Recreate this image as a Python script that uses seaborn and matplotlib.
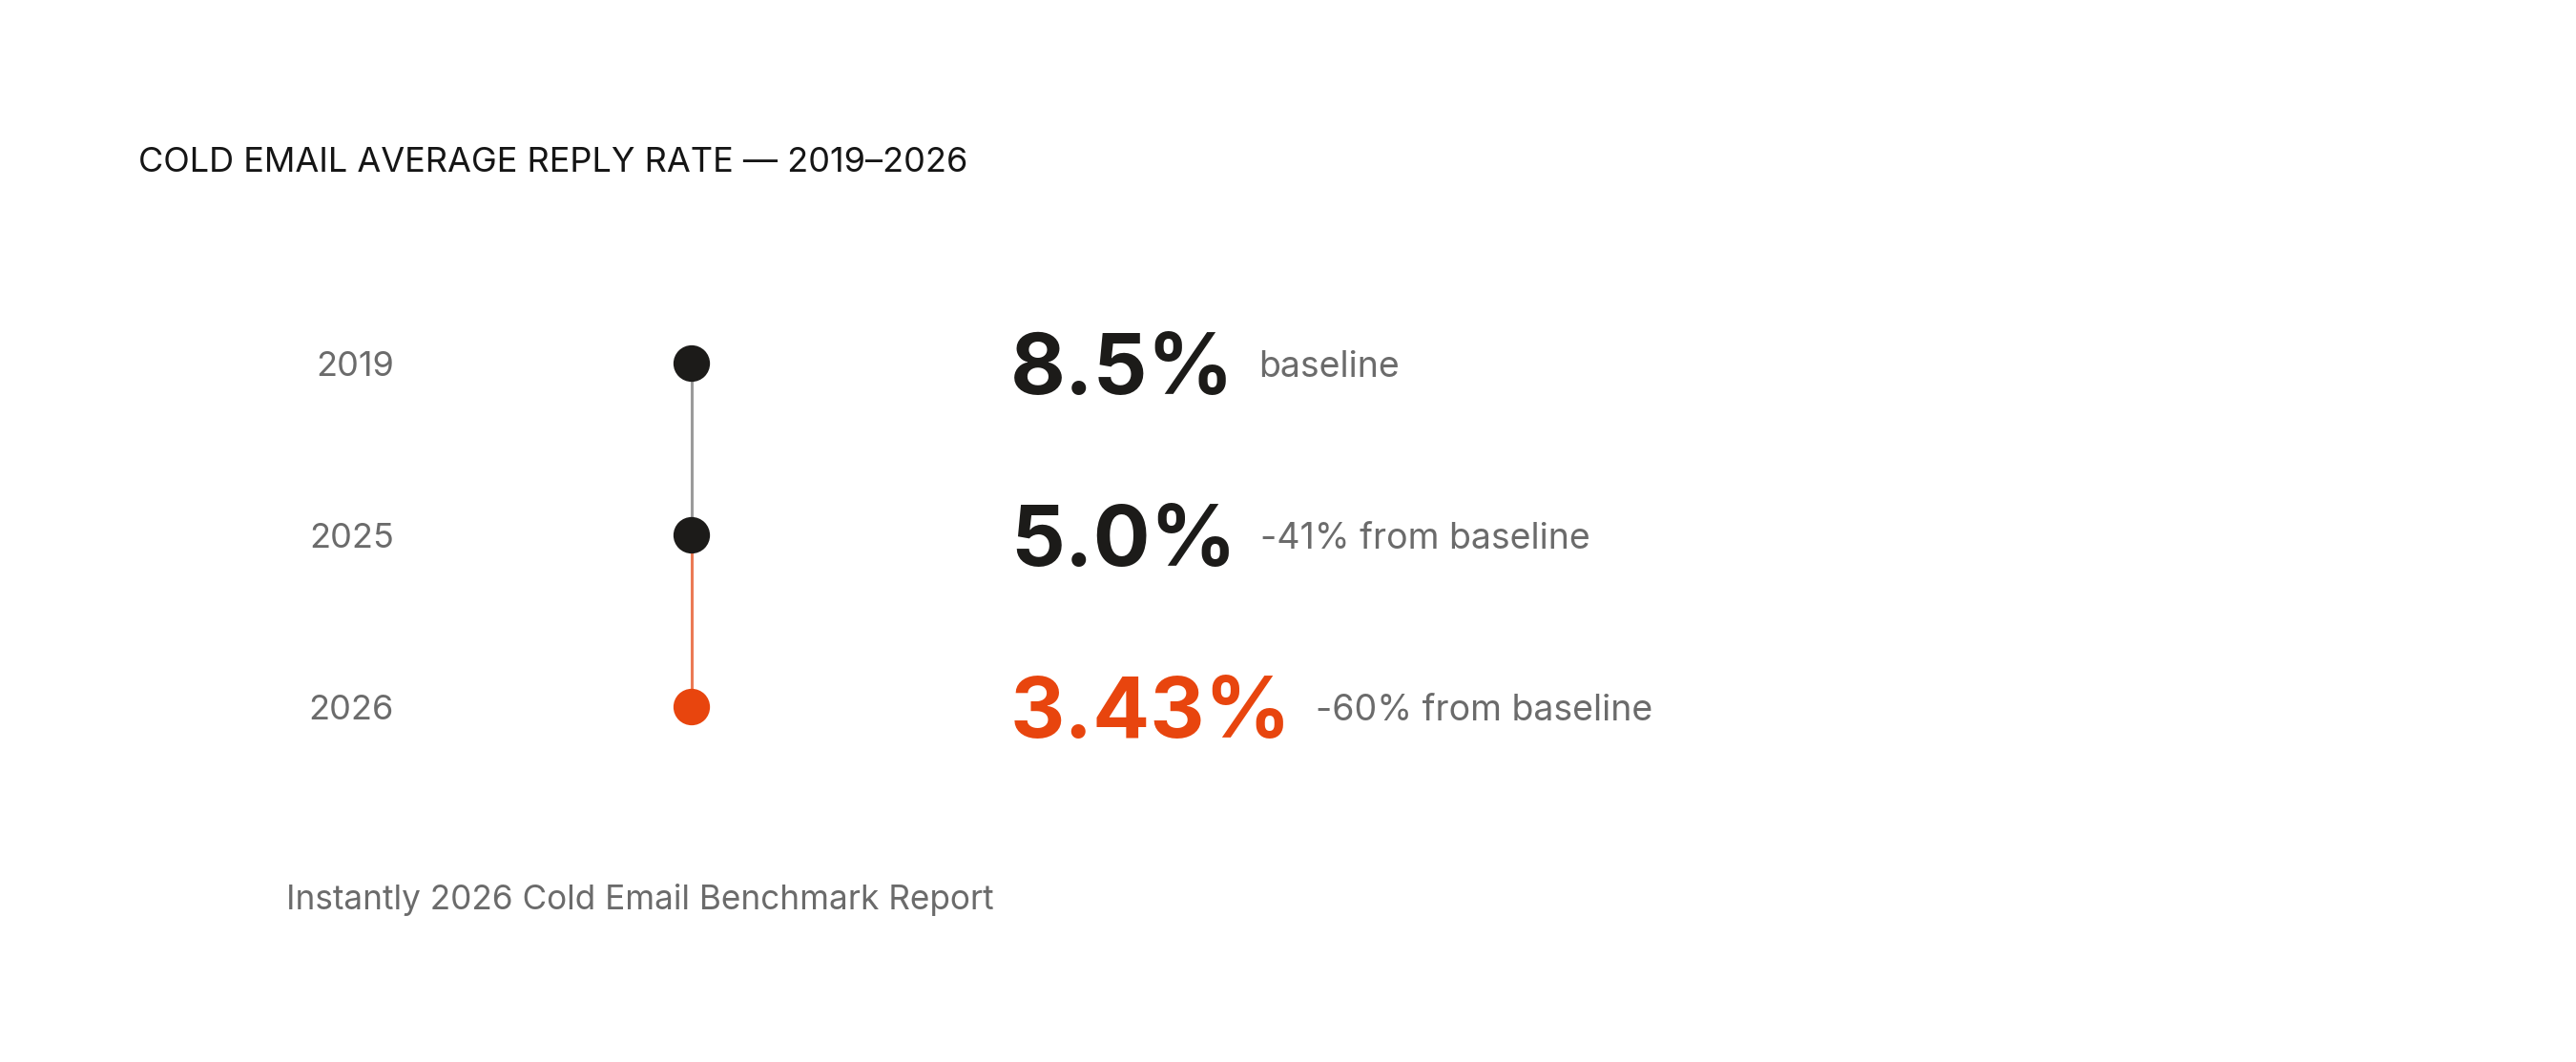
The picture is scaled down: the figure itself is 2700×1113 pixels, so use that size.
import seaborn as sns
import matplotlib.pyplot as plt
import pandas as pd

# data
years = ["2019", "2025", "2026"]
reply_rate = [8.5, 5.0, 3.43]
value_labels = ["8.5%", "5.0%", "3.43%"]
notes = ["baseline", "-41% from baseline", "-60% from baseline"]
highlight = [False, False, True]

DARK = "#1c1b19"
ORANGE = "#e8450e"
GREY_TXT = "#6b6b6b"

sns.set_style("white")
plt.rcParams["font.family"] = ["Inter", "DejaVu Sans"]

W, H = 2700, 1113
fig = plt.figure(figsize=(W / 100, H / 100), dpi=100)
ax = fig.add_axes([0, 0, 1, 1])

df = pd.DataFrame({"year": years, "rate": reply_rate, "hl": highlight})
dot_x = 725
df["x"] = dot_x

# connecting segments (drawn first so the dots sit on top)
ax.plot([dot_x, dot_x], [years[0], years[1]], color="#9b9b9b", lw=2.2, zorder=1)
ax.plot([dot_x, dot_x], [years[1], years[2]], color="#eb7a55", lw=2.2, zorder=1)

sns.scatterplot(data=df, x="x", y="year", hue="hl", palette={False: DARK, True: ORANGE},
                s=760, linewidth=0, legend=False, ax=ax, zorder=3)

# pixel-like layout: category 0 at y=381, step 180 px
ax.set_xlim(0, W)
ax.set_ylim(2 + (H - 741) / 180, -381 / 180)
ax.axis("off")

for i, row in df.iterrows():
    ax.text(413, i, row["year"], ha="right", va="center_baseline",
            fontsize=26, color=GREY_TXT)
    col = ORANGE if row["hl"] else DARK
    val = ax.text(1059, i, value_labels[i], ha="left", va="center_baseline",
                  fontsize=64, fontweight="bold", color=col)
    ax.annotate(notes[i], xy=(1, i), xycoords=(val, "data"), xytext=(18, 0),
                textcoords="offset points", ha="left", va="center_baseline",
                fontsize=27, color=GREY_TXT)

fig.text(145 / W, 1 - 167 / H, "COLD EMAIL AVERAGE REPLY RATE — 2019–2026",
         ha="left", va="center_baseline", fontsize=26, color="#151515")
fig.text(300 / W, 1 - 939 / H, "Instantly 2026 Cold Email Benchmark Report",
         ha="left", va="center_baseline", fontsize=25.3, color=GREY_TXT)

fig.savefig("out.png", dpi=100, facecolor="white")
